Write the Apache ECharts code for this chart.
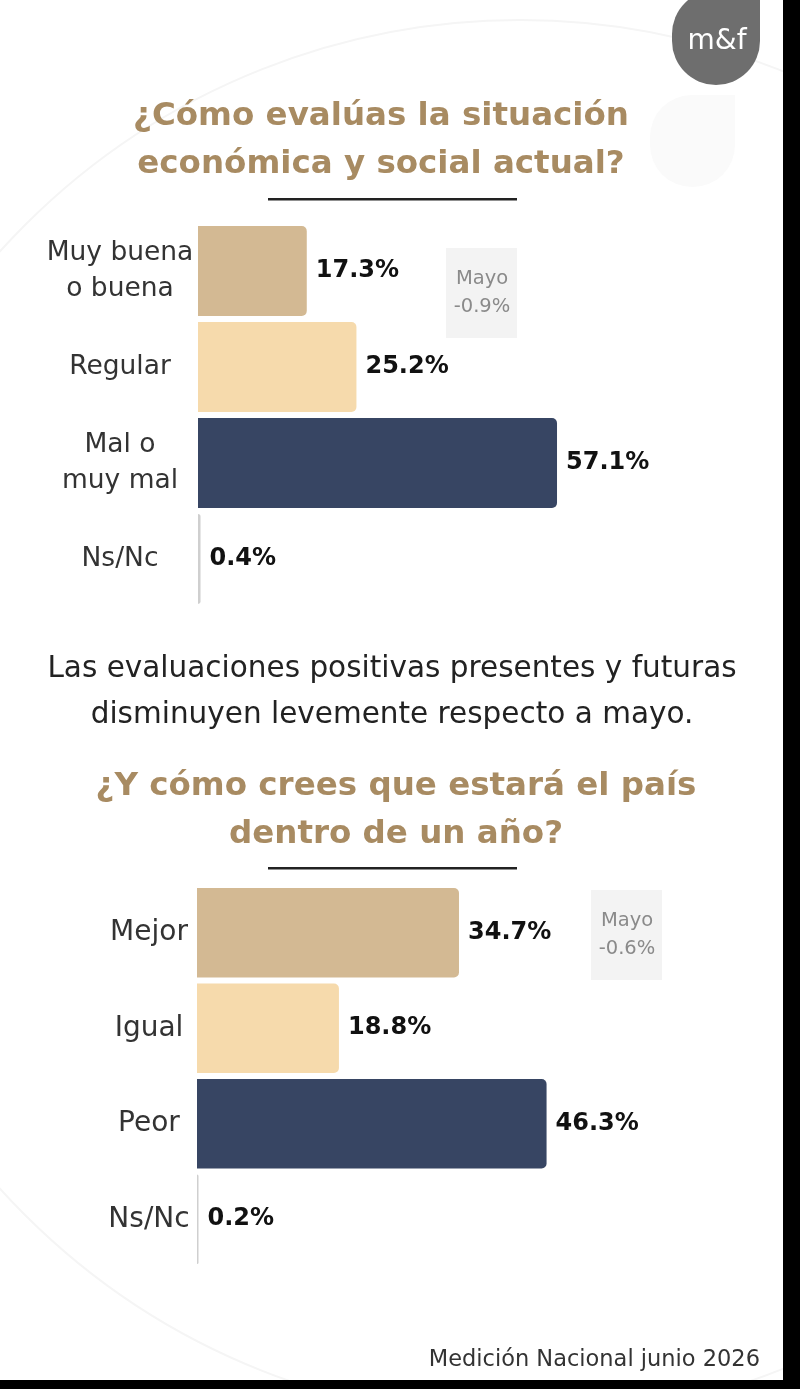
<!DOCTYPE html>
<html>
<head>
<meta charset="utf-8">
<script src="https://cdn.jsdelivr.net/npm/echarts@6/dist/echarts.min.js"></script>
<style>
html,body{margin:0;padding:0;background:#000;}
#main{width:783px;height:1380px;background:#fff;}
</style>
</head>
<body>
<div id="main"></div>
<script>
// pregunta 1: situacion actual
var catsActual = ['Muy buena\no buena', 'Regular', 'Mal o\nmuy mal', 'Ns/Nc'];
var valsActual = [17.3, 25.2, 57.1, 0.4];
// pregunta 2: dentro de un año
var catsFuturo = ['Mejor', 'Igual', 'Peor', 'Ns/Nc'];
var valsFuturo = [34.7, 18.8, 46.3, 0.2];
var barColors = ['#D3B993', '#F6DAAC', '#374563', '#CFCFCF'];
var mayoActual = '-0.9%';
var mayoFuturo = '-0.6%';

var FONT = '"DejaVu Sans", sans-serif';
var mychart = echarts.init(document.getElementById('main'), null, {renderer: 'canvas'});

function toData(vals) {
    return vals.map(function (v, i) {
        return {value: v, itemStyle: {color: barColors[i]}};
    });
}

function barSeries(idx, vals) {
    return {
        type: 'bar',
        xAxisIndex: idx,
        yAxisIndex: idx,
        barCategoryGap: '6.5%',
        data: toData(vals),
        itemStyle: {borderRadius: [0, 5, 5, 0]},
        label: {
            show: true,
            position: 'right',
            distance: 9,
            formatter: '{c}%',
            color: '#111',
            fontFamily: FONT,
            fontWeight: 'bold',
            fontSize: 24
        },
        silent: true
    };
}

function catAxis(idx, cats, margin, size) {
    return {
        type: 'category',
        gridIndex: idx,
        inverse: true,
        data: cats,
        axisLine: {show: false},
        axisTick: {show: false},
        axisLabel: {
            margin: margin,
            align: 'center',
            color: '#333',
            fontFamily: FONT,
            fontSize: size,
            lineHeight: 36
        }
    };
}

// max distinto por grafico: las barras de abajo usan una escala mas ancha
function valAxis(idx, max) {
    return {
        type: 'value',
        gridIndex: idx,
        min: 0,
        max: max,
        show: false,
        splitLine: {show: false}
    };
}

function mayoBox(x, y, txt) {
    return {
        type: 'group',
        x: x, y: y,
        children: [
            {type: 'rect', shape: {x: 0, y: 0, width: 71, height: 90}, style: {fill: '#F3F3F3'}},
            {type: 'text', x: 36, y: 31, style: {text: 'Mayo', fill: '#8a8a8a', font: '19.5px ' + FONT, textAlign: 'center', textVerticalAlign: 'middle'}},
            {type: 'text', x: 36, y: 59, style: {text: txt, fill: '#8a8a8a', font: '19.5px ' + FONT, textAlign: 'center', textVerticalAlign: 'middle'}}
        ]
    };
}

function title(x, y, lines) {
    return {
        type: 'text', x: x, y: y,
        style: {
            text: lines.join('\n'),
            fill: '#A88B62',
            font: 'bold 32.5px ' + FONT,
            lineHeight: 48,
            textAlign: 'center',
            textVerticalAlign: 'middle'
        }
    };
}

var option = {
    backgroundColor: '#fff',
    animation: false,
    grid: [
        {left: 198, top: 223, width: 503, height: 384},
        {left: 197, top: 885, width: 528.5, height: 382}
    ],
    xAxis: [valAxis(0, 80), valAxis(1, 70)],
    yAxis: [catAxis(0, catsActual, 78, 26.5), catAxis(1, catsFuturo, 48, 28)],
    series: [barSeries(0, valsActual), barSeries(1, valsFuturo)],
    graphic: [
        // decoracion de fondo
        {type: 'circle', z: -10, shape: {cx: 520, cy: 720, r: 700}, style: {fill: 'none', stroke: '#F5F5F5', lineWidth: 2}, silent: true},
        {type: 'rect', z: -10, shape: {x: 650, y: 95, width: 85, height: 92, r: [42, 0, 42, 42]}, style: {fill: '#FAFAFA'}, silent: true},
        // logo
        {type: 'rect', shape: {x: 672, y: -10, width: 88, height: 95, r: [44, 0, 44, 44]}, style: {fill: '#6E6E6E'}},
        {type: 'text', x: 717, y: 42, style: {text: 'm&f', fill: '#fff', font: '28px ' + FONT, textAlign: 'center', textVerticalAlign: 'middle'}},
        title(381, 141, ['¿Cómo evalúas la situación', 'económica y social actual?']),
        {type: 'rect', shape: {x: 268, y: 198, width: 249, height: 2.5}, style: {fill: '#222'}},
        mayoBox(446, 248, mayoActual),
        {type: 'text', x: 392, y: 692,
            style: {text: 'Las evaluaciones positivas presentes y futuras\ndisminuyen levemente respecto a mayo.',
                fill: '#222', font: '29.5px ' + FONT, lineHeight: 46, textAlign: 'center', textVerticalAlign: 'middle'}},
        title(396, 811, ['¿Y cómo crees que estará el país', 'dentro de un año?']),
        {type: 'rect', shape: {x: 268, y: 867, width: 249, height: 2.5}, style: {fill: '#222'}},
        mayoBox(591, 890, mayoFuturo),
        {type: 'text', x: 760, y: 1360, style: {text: 'Medición Nacional junio 2026', fill: '#333', font: '22.5px ' + FONT, textAlign: 'right', textVerticalAlign: 'middle'}}
    ]
};
mychart.setOption(option);
</script>
</body>
</html>
